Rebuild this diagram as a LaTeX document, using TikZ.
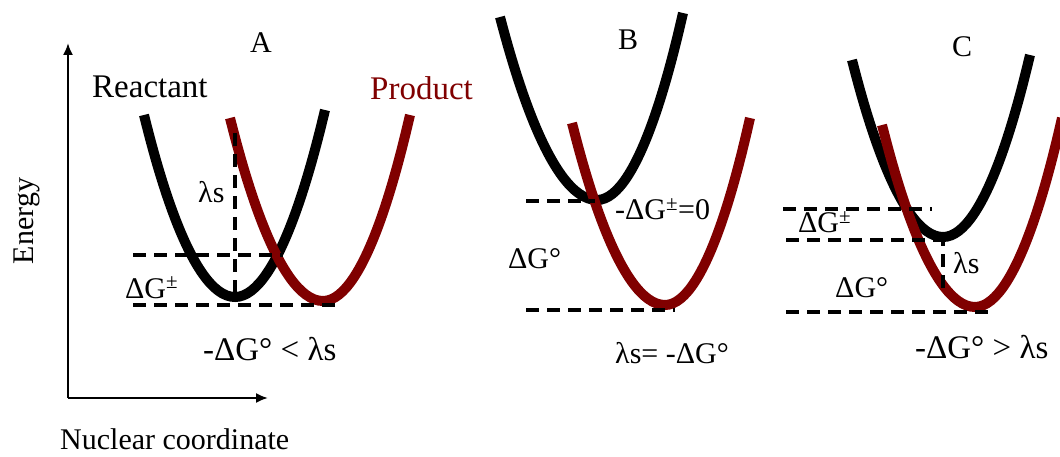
\documentclass[tikz,border=0pt]{standalone}
\usepackage{fontspec}
\setmainfont{Liberation Serif}
\usetikzlibrary{arrows.meta}
\definecolor{prodred}{RGB}{128,0,0}
\begin{document}
\begin{tikzpicture}[x=1pt,y=-1pt,
  blackcurve/.style={line width=10pt,black},
  redcurve/.style={line width=10pt,prodred},
  dashline/.style={line width=3.5pt,dash pattern=on 13pt off 8pt},
  axisline/.style={line width=2pt,-{Latex[length=12pt,width=10pt]}},
  lbl/.style={inner sep=0pt,font=\fontsize{30}{34}\selectfont},
  biglbl/.style={inner sep=0pt,font=\fontsize{33}{36}\selectfont}]
\useasboundingbox (0,0) rectangle (1060,457);
% axes
\coordinate (origin) at (68,398);
\coordinate (ytip) at (68,43);
\coordinate (xtip) at (268,398);
\draw[axisline] (origin) -- (ytip);
\draw[axisline] (origin) -- (xtip);
% Panel A
\draw[blackcurve] (144,115) parabola bend (235,297) (325,110);
\draw[redcurve] (230,118) parabola bend (323,301) (410,115);
\draw[dashline] (133,255) -- (283,255);
\draw[dashline] (133,305) -- (336,305);
\draw[dashline] (235,133) -- (235,297);
% Panel B
\draw[blackcurve] (500,17) parabola bend (597,200) (683,13);
\draw[redcurve] (572,123) parabola bend (665,305) (750,118);
\draw[dashline] (526,201) -- (595,201);
\draw[dashline] (526,310) -- (675,310);
% Panel C
\draw[blackcurve] (852,60) parabola bend (943,237) (1030,55);
\draw[redcurve] (882,125) parabola bend (975,307) (1062,118);
\draw[dashline] (783,209) -- (932,209);
\draw[dashline] (786,240) -- (945,240);
\draw[dashline] (786,312) -- (988,312);
\draw[dashline] (943,233) -- (943,290);
% texts
\node[lbl,anchor=base] (tA) at (261,53) {A};
\node[lbl,anchor=base] (tB) at (628,50) {B};
\node[lbl,anchor=base] (tC) at (962,57) {C};
\node[biglbl,anchor=base west] (reac) at (92,98) {Reactant};
\node[biglbl,anchor=base west,text=prodred] (prod) at (370,100) {Product};
\node[lbl,anchor=base,rotate=90] (energy) at (33,221) {Energy};
\node[lbl,anchor=base west] (nuc) at (60,449) {Nuclear coordinate};
\node[lbl,anchor=base west] (lsA) at (198,203) {λs};
\node[lbl,anchor=base west] (dgA) at (125,298) {ΔG\textsuperscript{±}};
\node[biglbl,anchor=base west] (condA) at (203,360) {-ΔG° < λs};
\node[lbl,anchor=base west] (dgzB) at (615,220) {-ΔG\textsuperscript{±}=0};
\node[lbl,anchor=base west] (dgoB) at (508,269) {ΔG°};
\node[lbl,anchor=base west] (condB) at (615,363) {λs= -ΔG°};
\node[lbl,anchor=base west] (dgC) at (798,233) {ΔG\textsuperscript{±}};
\node[lbl,anchor=base west] (lsC) at (953,273) {λs};
\node[lbl,anchor=base west] (dgoC) at (835,297) {ΔG°};
\node[biglbl,anchor=base west] (condC) at (915,358) {-ΔG° > λs};
\end{tikzpicture}
\end{document}
